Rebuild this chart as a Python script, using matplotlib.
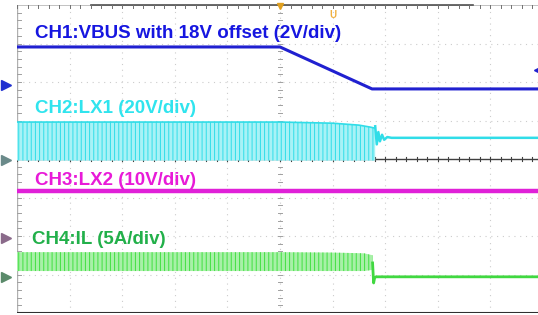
import matplotlib
matplotlib.use("Agg")
import matplotlib.pyplot as plt

plt.rcParams["font.family"] = ["Liberation Sans", "DejaVu Sans"]
plt.rcParams["hatch.linewidth"] = 0.7

# time axis in divisions (center = trigger), vertical axis in divisions
ch1_t = [-5.0, 0.0, 1.75, 4.9]
ch1_v = [2.91, 2.91, 1.82, 1.82]

ch2_band_t = [-5.0, 0.0, 1.0, 1.5, 1.71, 1.81]
ch2_band_top = [0.96, 0.96, 0.93, 0.88, 0.83, 0.80]
ch2_base = -0.04
ch2_after_t = [1.81, 1.84, 1.87, 1.90, 1.94, 1.98, 2.04, 2.12, 4.9]
ch2_after_v = [0.85, 0.38, 0.70, 0.46, 0.63, 0.50, 0.57, 0.55, 0.55]

ch3_t = [-5.0, 4.9]
ch3_v = [-0.83, -0.83]

ch4_band_t = [-5.0, 0.0, 1.0, 1.6, 1.76]
ch4_band_top = [-2.42, -2.42, -2.43, -2.45, -2.50]
ch4_band_bot = [-2.91, -2.91, -2.91, -2.91, -2.88]
ch4_after_t = [1.76, 1.78, 1.80, 1.83, 4.9]
ch4_after_v = [-2.70, -3.22, -3.08, -3.06, -3.06]

labels = ["CH1:VBUS with 18V offset (2V/div)", "CH2:LX1 (20V/div)",
          "CH3:LX2 (10V/div)", "CH4:IL (5A/div)"]
label_pos = [(-4.66, 3.27), (-4.66, 1.30), (-4.66, -0.56), (-4.72, -2.08)]
label_colors = ["#1616e0", "#30e4ee", "#e81ad8", "#22b04a"]

ground_marks = [1.92, -0.03, -2.05, -3.06]
ground_colors = ["#2030d0", "#6a8a8a", "#8a6a8a", "#5a8a6a"]

fig = plt.figure(figsize=(5.38, 3.15), dpi=100)
ax = fig.add_axes([17 / 538, 2 / 315, 521 / 538, 308 / 315])
ax.set_xlim(-5, 4.905)
ax.set_ylim(-4, 4)
ax.axis("off")

# graticule
grid_kw = dict(color="#cccccc", lw=0.8, ls=(0, (1, 4.2)), zorder=0)
for gx in range(-4, 5):
    ax.axvline(gx, **grid_kw)
for gy in range(-3, 4):
    ax.axhline(gy, **grid_kw)
ax.axhline(0, color="#404040", lw=1.0, zorder=1)
ax.axvline(-5, color="#b0b0b0", lw=1.0, zorder=1)
ax.axhline(-4, color="#303030", lw=1.5, zorder=1)
ax.axhline(4, color="#b8b8b8", lw=1.2, zorder=1)
ax.plot([-3.6, 3.67], [4, 4], color="#505050", lw=1.2, zorder=1, clip_on=False)
for k in range(-25, 25):
    ax.plot([k / 5, k / 5], [-0.05, 0.05], color="#404040", lw=0.8, zorder=1)
    ax.plot([k / 5, k / 5], [3.93, 4.0], color="#707070", lw=0.7, zorder=1)
for k in range(-20, 20):
    ax.plot([-0.04, 0.04], [k / 5, k / 5], color="#a0a0a0", lw=0.7, zorder=1)
    ax.plot([-5, -4.93], [k / 5, k / 5], color="#a0a0a0", lw=0.7, zorder=1)

# CH2 switching band
ax.fill_between(ch2_band_t, ch2_base, ch2_band_top, facecolor="#a8f2f6",
                edgecolor="#30dde8", hatch="||||", lw=0, zorder=2)
ax.plot(ch2_band_t, ch2_band_top, color="#30dde8", lw=1.2, zorder=3)
ax.plot(ch2_after_t, ch2_after_v, color="#30dde8", lw=1.8, zorder=3)

# CH3
ax.plot(ch3_t, ch3_v, color="#e020d8", lw=3.2, zorder=3)

# CH4 inductor current band
ax.fill_between(ch4_band_t, ch4_band_bot, ch4_band_top, facecolor="#a8f0a8",
                edgecolor="#40e040", hatch="||||", lw=0, zorder=2)
ax.plot(ch4_after_t, ch4_after_v, color="#40d840", lw=2.0, zorder=3)

# CH1
ax.plot(ch1_t, ch1_v, color="#2020d0", lw=2.2, zorder=4)

for txt, (lx, ly), c in zip(labels, label_pos, label_colors):
    ax.text(lx, ly, txt, color=c, fontsize=13.5, fontweight="bold",
            ha="left", va="center", zorder=5)

# ground markers on left edge
for gy, c in zip(ground_marks, ground_colors):
    ax.plot([-5.2], [gy], marker=">", ms=7, color=c, clip_on=False, zorder=5)
ax.plot([4.886], [2.31], marker="<", ms=5, color="#2020d0", clip_on=False, zorder=5)

# trigger markers
ax.plot([0], [3.98], marker="v", ms=5, color="#e0a020", clip_on=False, zorder=5)
ax.text(1.0, 3.75, "U", color="#f0b040", fontsize=7, fontweight="bold",
        ha="center", va="center", zorder=5)

fig.savefig("out.png", dpi=100)
